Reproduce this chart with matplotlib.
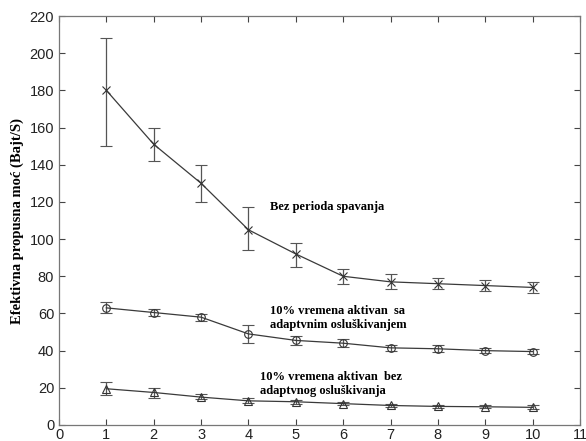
import numpy as np
import matplotlib.pyplot as plt

# broj cvorova (x osa)
x = np.arange(1, 11)

# bez perioda spavanja
bez_sp = [180, 151, 130, 105, 92, 80, 77, 76, 75, 74]
bez_sp_lo = [150, 142, 120, 94, 85, 76, 73, 73, 72, 71]
bez_sp_hi = [208, 160, 140, 117, 98, 84, 81, 79, 78, 77]

# 10% aktivan, sa adaptivnim osluskivanjem
sa_ad = [63, 60.5, 58, 49, 45.5, 44, 41.5, 41, 40, 39.5]
sa_ad_lo = [60, 58.5, 56, 44, 43, 42, 40, 39, 38.5, 38]
sa_ad_hi = [66, 62.5, 59.5, 54, 48, 46, 43, 43, 41.5, 41]

# 10% aktivan, bez adaptivnog osluskivanja
bez_ad = [19.5, 17.5, 15, 13, 12.5, 11.5, 10.5, 10, 9.8, 9.5]
bez_ad_lo = [16, 14.5, 14, 12, 11.5, 10.5, 9.5, 9, 9, 8.5]
bez_ad_hi = [23, 20, 16.5, 14.5, 13.5, 12.5, 11.5, 11, 11, 10.5]

plt.rcParams['font.family'] = ['Liberation Sans', 'DejaVu Sans']

fig = plt.figure(figsize=(5.86, 4.41), dpi=100)
ax = fig.add_axes([59 / 586, 16 / 441, 521 / 586, 409 / 441])

def serija(y, lo, hi, marker):
    y = np.array(y)
    err = [y - np.array(lo), np.array(hi) - y]
    ax.errorbar(x, y, yerr=err, color='#3a3a3a', ecolor='#555555',
                lw=0.9, elinewidth=0.9, capsize=4, capthick=0.9,
                marker=marker, ms=5.5, mfc='none', mec='#333333', mew=0.8)

serija(bez_sp, bez_sp_lo, bez_sp_hi, 'x')
serija(sa_ad, sa_ad_lo, sa_ad_hi, 'o')
serija(bez_ad, bez_ad_lo, bez_ad_hi, '^')

ax.set_xlim(0, 11)
ax.set_ylim(0, 220)
ax.set_xticks(range(0, 12))
ax.set_yticks(range(0, 221, 20))
ax.tick_params(direction='in', top=True, right=True, labelsize=10.5,
               length=4, width=0.8, color='#444444', labelcolor='#222222')
ax.tick_params(axis='x', pad=2)
for s in ax.spines.values():
    s.set_color('#777777')
    s.set_linewidth(0.9)

serif = dict(family=['Liberation Serif', 'DejaVu Serif'], fontweight='bold', fontsize=9)
ax.set_ylabel('Efektivna propusna moć (Bajt/S)', labelpad=4,
              **{**serif, 'fontsize': 10.5})
ax.text(4.45, 115.5, 'Bez perioda spavanja', **serif)
ax.text(4.45, 57.5, '10% vremena aktivan  sa\nadaptvnim osluškivanjem',
        linespacing=1.2, va='center', **serif)
ax.text(4.25, 22, '10% vremena aktivan  bez\nadaptvnog osluškivanja',
        linespacing=1.2, va='center', **serif)

fig.savefig('out.png', dpi=100)
